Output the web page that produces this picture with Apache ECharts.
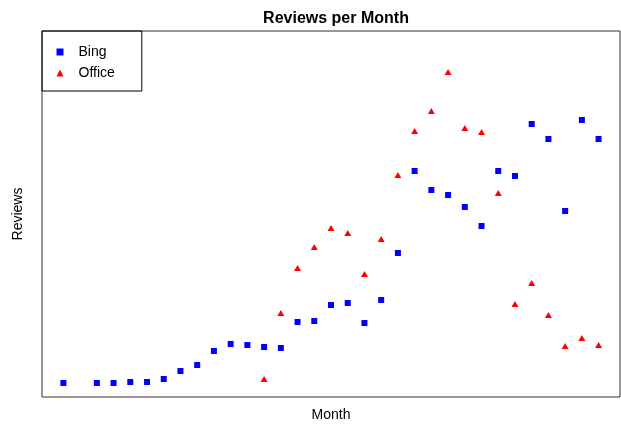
<!DOCTYPE html>
<html>
<head>
<meta charset="utf-8">
<script src="https://cdn.jsdelivr.net/npm/echarts@6/dist/echarts.min.js"></script>
<style>
  html, body { margin: 0; padding: 0; background: #fff; }
  #chart { width: 621px; height: 426px; }
</style>
</head>
<body>
<div id="chart"></div>
<script>
// months 1..33, Bing has no value for month 2, Office starts at month 13
const months = Array.from({ length: 33 }, (_, i) => i + 1)

const bingReviews = [
  14, null, 14, 14, 15, 15, 18, 26, 32, 46,
  53, 52, 50, 49, 75, 76, 92, 94, 74, 97,
  144, 226, 207, 202, 190, 171, 226, 221, 273, 258,
  186, 277, 258
]

const officeReviews = [
  null, null, null, null, null, null, null, null, null, null,
  null, null, 18, 84, 129, 150, 169, 164, 123, 158,
  222, 266, 286, 325, 269, 265, 204, 93, 114, 82,
  51, 59, 52
]

const toPoints = (vals) => months
  .map((m, i) => [m, vals[i]])
  .filter(p => p[1] !== null)

const chart = echarts.init(document.getElementById('chart'))

const option = {
  animation: false,
  textStyle: { fontFamily: 'Liberation Sans, Arial, sans-serif' },
  title: {
    text: 'Reviews per Month',
    left: 331,
    top: 6,
    textAlign: 'center',
    textStyle: { fontSize: 16, fontWeight: 'bold', color: '#000' }
  },
  legend: {
    orient: 'vertical',
    left: 42,
    top: 31,
    itemWidth: 7,
    itemHeight: 7,
    itemGap: 7,
    padding: [14, 27, 11, 14.5],
    borderColor: '#000',
    borderWidth: 1,
    borderRadius: 0,
    textStyle: { fontSize: 14, color: '#000', lineHeight: 14, padding: [0, 0, 0, 10] },
    data: [{ name: 'Bing', icon: 'rect' }, { name: 'Office', icon: 'triangle' }]
  },
  grid: {
    left: 42,
    right: 1,
    top: 31,
    bottom: 29,
    outerBoundsMode: 'none',
    show: true,
    borderColor: '#333',
    borderWidth: 1
  },
  graphic: [
    {
      type: 'text',
      x: 331,
      y: 415,
      style: {
        text: 'Month', fontSize: 14, fill: '#000',
        fontFamily: 'Liberation Sans, Arial, sans-serif',
        align: 'center', verticalAlign: 'middle'
      }
    },
    {
      type: 'text',
      x: 18,
      y: 214,
      rotation: Math.PI / 2,
      style: {
        text: 'Reviews', fontSize: 14, fill: '#000',
        fontFamily: 'Liberation Sans, Arial, sans-serif',
        align: 'center', verticalAlign: 'middle'
      }
    }
  ],
  xAxis: {
    type: 'value',
    min: -0.28,
    max: 34.28,
    axisLine: { show: false },
    axisTick: { show: false },
    axisLabel: { show: false },
    splitLine: { show: false }
  },
  yAxis: {
    type: 'value',
    min: 0,
    max: 366,
    axisLine: { show: false },
    axisTick: { show: false },
    axisLabel: { show: false },
    splitLine: { show: false }
  },
  series: [
    {
      name: 'Bing',
      type: 'scatter',
      symbol: 'rect',
      symbolSize: 6,
      itemStyle: { color: '#0000ff', opacity: 1 },
      data: toPoints(bingReviews)
    },
    {
      name: 'Office',
      type: 'scatter',
      symbol: 'triangle',
      symbolSize: [7, 6],
      itemStyle: { color: '#ff0000', opacity: 1 },
      data: toPoints(officeReviews)
    }
  ]
}

chart.setOption(option)
</script>
</body>
</html>
